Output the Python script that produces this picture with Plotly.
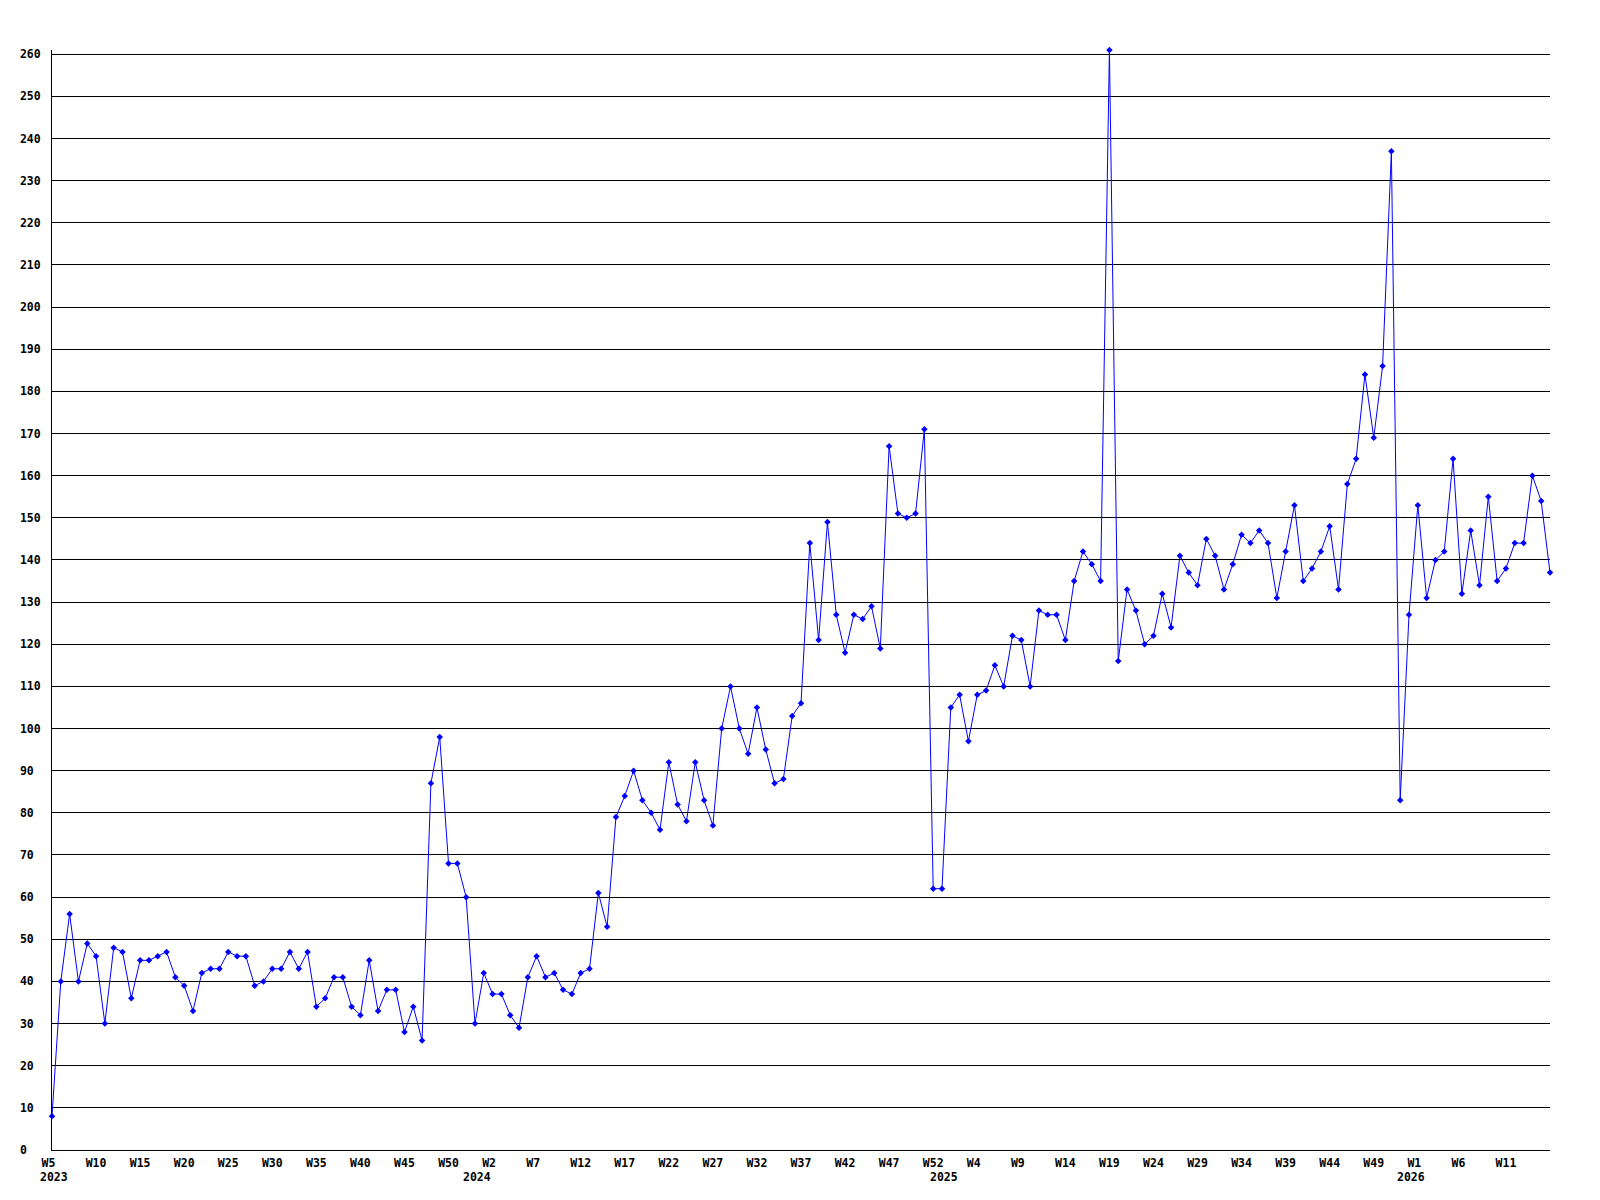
import plotly.graph_objects as go

# weekly counts, week 0 = partial week holding 1 January
values_2023 = [8, 40, 56, 40, 49, 46, 30, 48, 47, 36, 45, 45, 46, 47, 41, 39, 33, 42, 43, 43,
               47, 46, 46, 39, 40, 43, 43, 47, 43, 47, 34, 36, 41, 41, 34, 32, 45, 33, 38, 38,
               28, 34, 26, 87, 98, 68, 68, 60]                      # W5..W52
values_2024 = [30, 42, 37, 37, 32, 29, 41, 46, 41, 42, 38, 37, 42, 43, 61, 53, 79, 84, 90, 83,
               80, 76, 92, 82, 78, 92, 83, 77, 100, 110, 100, 94, 105, 95, 87, 88, 103, 106, 144, 121,
               149, 127, 118, 127, 126, 129, 119, 167, 151, 150, 151, 171, 62]   # W0..W52
values_2025 = [62, 105, 108, 97, 108, 109, 115, 110, 122, 121, 110, 128, 127, 127, 121, 135, 142, 139, 135, 261,
               116, 133, 128, 120, 122, 132, 124, 141, 137, 134, 145, 141, 133, 139, 146, 144, 147, 144, 131, 142,
               153, 135, 138, 142, 148, 133, 158, 164, 184, 169, 186, 237, 83]   # W0..W52
values_2026 = [127, 153, 131, 140, 142, 164, 132, 147, 134, 155, 135, 138, 144, 144, 160, 154, 137]  # W0..W16

first_week = {2023: 5, 2024: 0, 2025: 0, 2026: 0}
series = {2023: values_2023, 2024: values_2024, 2025: values_2025, 2026: values_2026}

weeks = []
counts = []
for year, vals in series.items():
    for i, v in enumerate(vals):
        weeks.append(f"{year}-W{first_week[year] + i:02d}")
        counts.append(v)

# axis labels
tick_weeks = ["2023-W05", "2023-W10", "2023-W15", "2023-W20", "2023-W25", "2023-W30", "2023-W35",
              "2023-W40", "2023-W45", "2023-W50", "2024-W02", "2024-W07", "2024-W12", "2024-W17",
              "2024-W22", "2024-W27", "2024-W32", "2024-W37", "2024-W42", "2024-W47", "2024-W52",
              "2025-W04", "2025-W09", "2025-W14", "2025-W19", "2025-W24", "2025-W29", "2025-W34",
              "2025-W39", "2025-W44", "2025-W49", "2026-W01", "2026-W06", "2026-W11"]
tick_text = ["W5", "W10", "W15", "W20", "W25", "W30", "W35", "W40", "W45", "W50",
             "W2", "W7", "W12", "W17", "W22", "W27", "W32", "W37", "W42", "W47", "W52",
             "W4", "W9", "W14", "W19", "W24", "W29", "W34", "W39", "W44", "W49",
             "W1", "W6", "W11"]
year_weeks = ["2023-W05", "2024-W00", "2025-W00", "2026-W00"]
year_text = ["2023", "2024", "2025", "2026"]
y_ticks = list(range(0, 261, 10))

NBSP = "\u00a0"
FONT = dict(family="DejaVu Sans Mono", size=11.5, color="black", weight="bold")

fig = go.Figure(
    go.Scatter(
        x=weeks,
        y=counts,
        mode="lines+markers",
        line=dict(color="#0000ff", width=1),
        marker=dict(symbol="diamond", size=5, color="#0000ff"),
        cliponaxis=False,
        hoverinfo="x+y",
    )
)

fig.update_layout(
    width=1584,
    height=1184,
    margin=dict(l=42, r=42, t=42, b=42),
    paper_bgcolor="white",
    plot_bgcolor="white",
    showlegend=False,
    font=FONT,
)
# labels are left aligned on the tick in the original: pad to equal width
fig.update_xaxes(
    type="category",
    categoryorder="array",
    categoryarray=weeks,
    range=[0, len(weeks) - 1],
    tickmode="array",
    tickvals=tick_weeks,
    ticktext=[t.ljust(3, NBSP) for t in tick_text],
    tickangle=0,
    showgrid=False,
    showline=True,
    linecolor="black",
    linewidth=1,
    ticks="",
    ticklabelstandoff=2,
    tickfont=FONT,
)
fig.update_yaxes(
    range=[0, 261],
    tickmode="array",
    tickvals=y_ticks,
    ticktext=[str(v).ljust(3, NBSP) for v in y_ticks],
    showgrid=True,
    gridcolor="black",
    gridwidth=1,
    zeroline=False,
    showline=True,
    linecolor="black",
    linewidth=1,
    ticks="",
    ticklabelstandoff=8,
    tickfont=FONT,
)

for wk, txt in zip(year_weeks, year_text):
    fig.add_annotation(
        x=wk, y=0, xref="x", yref="paper",
        text=txt, showarrow=False,
        xanchor="left", yanchor="top",
        xshift=-14, yshift=-18,
        font=FONT,
    )

fig.write_html("out.html")
